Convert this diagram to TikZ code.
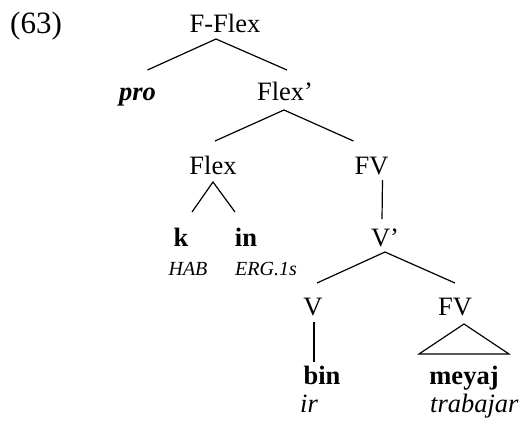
\documentclass[tikz,border=0pt]{standalone}
\usepackage{fontspec}
\setmainfont{Liberation Serif}
\begin{document}
\begin{tikzpicture}[x=1pt,y=-1pt,
  lab/.style={inner sep=0pt,anchor=base,font=\fontsize{26.5}{30}\selectfont},
  gl/.style={inner sep=0pt,anchor=base west,font=\fontsize{26.5}{30}\selectfont\itshape},
  sgl/.style={inner sep=0pt,font=\fontsize{20}{24}\selectfont\itshape},
  br/.style={line width=1.2pt}]
\useasboundingbox (0,0) rectangle (522,423);
\node[inner sep=0pt,anchor=base west,font=\fontsize{31}{34}\selectfont] (ex) at (10,33) {(63)};
\node[lab] (fflex) at (225,32) {F-Flex};
\node[lab,font=\fontsize{26.5}{30}\selectfont\bfseries\itshape] (pro) at (137.5,100) {pro};
\node[lab] (flexbar) at (285,100) {Flex’};
\node[lab] (flex) at (213,174) {Flex};
\node[lab] (fv) at (371.5,174) {FV};
\node[lab,font=\fontsize{26.5}{30}\selectfont\bfseries] (k) at (181,246) {k};
\node[lab,font=\fontsize{26.5}{30}\selectfont\bfseries] (in) at (246,246) {in};
\node[sgl,anchor=base] (hab) at (188,275) {HAB};
\node[sgl,anchor=base west] (erg) at (235,275) {ERG.1s};
\node[lab] (vbar) at (385,246) {V’};
\node[lab] (v) at (313,315) {V};
\node[lab] (fv2) at (455,315) {FV};
\node[lab,font=\fontsize{26.5}{30}\selectfont\bfseries] (bin) at (322,384) {bin};
\node[lab,font=\fontsize{26.5}{30}\selectfont\bfseries] (meyaj) at (464,384) {meyaj};
\node[gl] (ir) at (300,412) {ir};
\node[gl] (trab) at (430,412) {trabajar};
% branches
\draw[br] ([shift={(10pt,30pt)}]pro.base) -- ([shift={(-9pt,-7pt)}]fflex.base) -- ([shift={(2pt,30pt)}]flexbar.base);
\draw[br] ([shift={(2pt,33pt)}]flex.base) -- ([shift={(-1pt,-10pt)}]flexbar.base) -- ([shift={(-18pt,33pt)}]fv.base);
\draw[br] ([shift={(11pt,34pt)}]k.base) -- ([shift={(0pt,-8pt)}]flex.base) -- ([shift={(-11pt,34pt)}]in.base);
\draw[br] ([shift={(11pt,-6pt)}]fv.base) -- ([shift={(-3pt,27pt)}]vbar.base);
\draw[br] ([shift={(4pt,32pt)}]v.base) -- ([shift={(0pt,-6pt)}]vbar.base) -- ([shift={(0pt,32pt)}]fv2.base);
\draw[br] ([shift={(1pt,-7pt)}]v.base) -- ([shift={(-8pt,22pt)}]bin.base);
\draw[br] ([shift={(9pt,-9pt)}]fv2.base) -- ([shift={(-45pt,30pt)}]meyaj.base) -- ([shift={(45pt,30pt)}]meyaj.base) -- cycle;
\end{tikzpicture}
\end{document}
